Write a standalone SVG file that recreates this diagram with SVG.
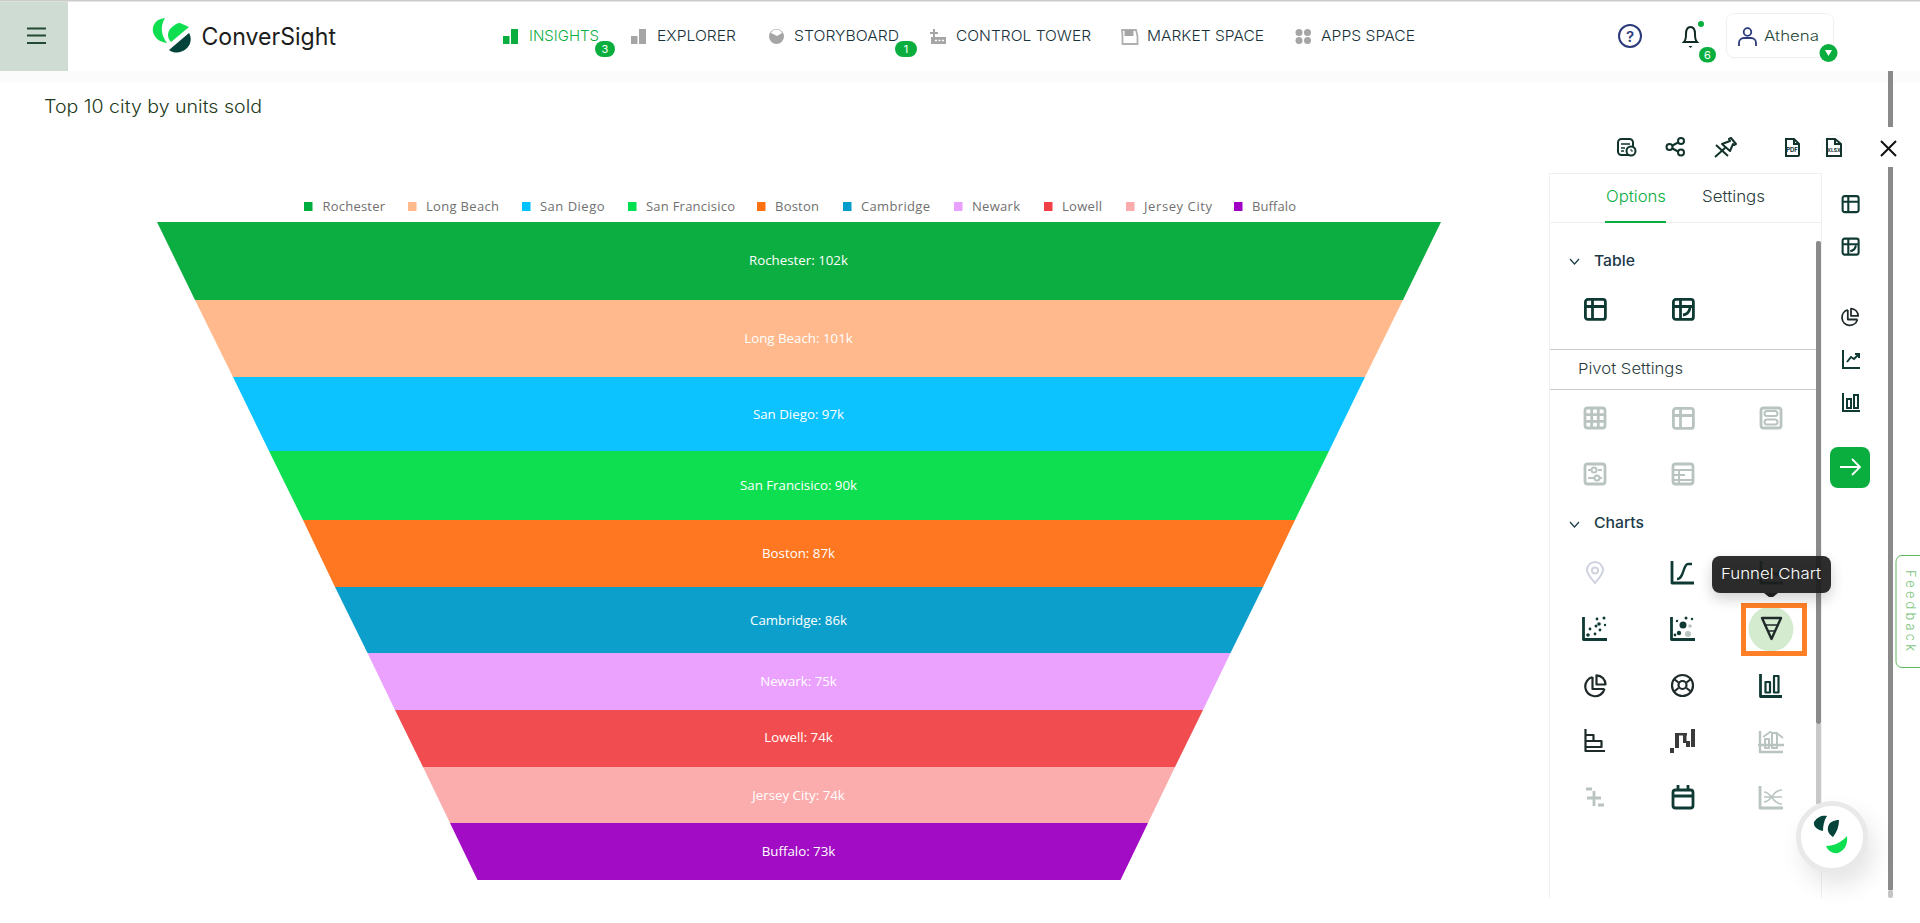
<svg xmlns="http://www.w3.org/2000/svg" width="1920" height="923" viewBox="0 0 1920 923">
<style>
text{font-family:"Inter","Noto Sans","Liberation Sans",sans-serif}
.nav{font-size:15px;fill:#17323a;font-weight:300}
.leg{font-family:"Open Sans","Noto Sans",sans-serif;font-size:13px;fill:#707070}
.lab{font-family:"Open Sans","Noto Sans",sans-serif;font-size:13.300px;fill:#fff;text-anchor:middle}
.badge{fill:#0aae3f}
.bt{font-size:11px;fill:#fff;text-anchor:middle}
.ic{fill:none;stroke:#0f3a34;stroke-width:2.800;stroke-linejoin:round}
.ig{fill:none;stroke:#b9c4c0;stroke-width:2.800;stroke-linejoin:round}
.ik{fill:none;stroke:#1f2a2a;stroke-width:2.200;stroke-linejoin:round}
.ng{fill:#a5a5a5}
.sb{fill:#8a8a8a}
.hd{font-size:15px;fill:#1c3a48;font-weight:500}
</style>
<defs>
<filter id="sh" x="-50%" y="-50%" width="200%" height="200%"><feGaussianBlur stdDeviation="12"/></filter>
<filter id="sh2" x="-30%" y="-50%" width="160%" height="200%"><feGaussianBlur stdDeviation="7"/></filter>
<g id="tbl"><rect x="1.400" y="1.400" width="20" height="20" rx="2.500"/><path d="M1.400 8.500H21.400M8.500 1.400V21.400"/></g>
<g id="tbl2"><rect x="1.400" y="1.400" width="20" height="20" rx="2.500"/><path d="M1.400 8.500H21.400M8.500 1.400V21.400M11 17q6-1 7-7"/></g>
<g id="pie"><path d="M8.500 3A9.800 9.800 0 1 0 20.500 15"/><path d="M8.500 3V15H20.500"/><path d="M12.500 1.300A9.200 9.200 0 0 1 21.500 10.500H12.500Z"/></g>
</defs>
<rect width="1920" height="923" fill="#fff"/>

<g id="header">
<rect y="71" width="1920" height="12" fill="#fbfbfb"/>
<rect width="1920" height="1.500" fill="#ccc"/>
<rect y="1.500" width="68" height="69.500" fill="#cfdcd3"/>
<path d="M27 28.500H46M27 35.500H46M27 43H46" stroke="#234a33" stroke-width="2" fill="none"/>
</g>

<g id="logo">
<path d="M165 18C155 19 152 26 153 32C155 39 160 42 167 43C161 35 160 26 165 18Z" fill="#0ddf50"/>
<path d="M180 23L189 27L171 42C167 38 167 32 171 28C174 25 177 23 180 23Z" fill="#0ddf50"/>
<path d="M189 33C192 38 191 45 186 49C181 53 175 54 169 50Z" fill="#04433a"/>
<text x="201.500" y="45" font-size="24" fill="#1d1d1d" font-weight="400" textLength="134.500" lengthAdjust="spacingAndGlyphs">ConverSight</text>
</g>

<g id="nav-insights">
<rect x="503" y="36" width="6.500" height="8" fill="#0aae3f"/><rect x="511" y="29" width="7" height="15" fill="#0aae3f"/>
<text x="529" y="41" class="nav" style="fill:#0aae3f" textLength="70" lengthAdjust="spacingAndGlyphs">INSIGHTS</text>
<rect x="595" y="41" width="20" height="16" rx="8" class="badge"/><text x="605" y="53" class="bt">3</text>
</g>
<g id="nav-explorer">
<rect x="631" y="36" width="6.500" height="8" class="ng"/><rect x="639" y="29" width="7" height="15" class="ng"/>
<text x="657" y="41" class="nav" textLength="79" lengthAdjust="spacingAndGlyphs">EXPLORER</text>
</g>
<g id="nav-storyboard">
<circle cx="776.500" cy="36.500" r="7.500" class="ng"/><path d="M771 33a6 6 0 0 1 11 0l-5 3Z" fill="#fff"/>
<text x="794" y="41" class="nav" textLength="105" lengthAdjust="spacingAndGlyphs">STORYBOARD</text>
<rect x="895" y="41" width="22" height="16" rx="8" class="badge"/><text x="906" y="53" class="bt">1</text>
</g>
<g id="nav-control">
<path d="M933 29h2v3h3v2h-3v3h-2v-3h-3v-2h3Z" class="ng"/><rect x="931" y="37" width="15" height="7" class="ng"/><path d="M935 40.500h2M938.500 40.500h2M942 40.500h2" stroke="#fff" stroke-width="1.500"/>
<text x="956" y="41" class="nav" textLength="135" lengthAdjust="spacingAndGlyphs">CONTROL TOWER</text>
</g>
<g id="nav-market">
<path d="M1122 30h14l1.500 6v8h-15v-8Z" fill="none" stroke="#b0b0b0" stroke-width="1.800"/><rect x="1124.500" y="30" width="9" height="6" class="ng"/>
<text x="1147" y="41" class="nav" textLength="117" lengthAdjust="spacingAndGlyphs">MARKET SPACE</text>
</g>
<g id="nav-apps">
<circle cx="1299" cy="32.500" r="3.500" class="ng"/><circle cx="1307.500" cy="32.500" r="3.500" class="ng"/><circle cx="1299" cy="40.500" r="3.500" class="ng"/><circle cx="1307.500" cy="40.500" r="3.500" class="ng"/>
<text x="1321" y="41" class="nav" textLength="94" lengthAdjust="spacingAndGlyphs">APPS SPACE</text>
</g>

<g id="help">
<circle cx="1630" cy="36" r="11" fill="none" stroke="#2b3a7a" stroke-width="2"/>
<text x="1630" y="41.500" font-size="15" fill="#2b3a7a" text-anchor="middle" font-weight="600">?</text>
</g>
<g id="notifications">
<path d="M1684 42c2-2 2-4 2-8c0-5 2-7 4.500-7s4.500 2 4.500 7c0 4 0 6 2 8Z" fill="none" stroke="#0f2a24" stroke-width="2"/>
<path d="M1688.500 46h4l-2 2Z" fill="#0f2a24"/>
<circle cx="1701" cy="24" r="3" fill="#0aae3f"/>
<rect x="1699" y="47" width="17" height="15.500" rx="7.700" class="badge"/><text x="1707.500" y="59" class="bt">6</text>
</g>
<g id="user">
<rect x="1726.500" y="13.500" width="107" height="44" rx="7" fill="#fff" stroke="#f0f0f0"/>
<circle cx="1747.500" cy="32" r="3.800" fill="none" stroke="#2b3a7a" stroke-width="1.800"/>
<path d="M1739 46v-3a5 5 0 0 1 5-5h7a5 5 0 0 1 5 5v3" fill="none" stroke="#2b3a7a" stroke-width="1.800"/>
<text x="1764" y="41" font-size="14.500" fill="#1f4a3a" font-weight="300" textLength="55" lengthAdjust="spacingAndGlyphs">Athena</text>
<circle cx="1828.500" cy="53" r="9" class="badge"/><path d="M1825 50h7l-3.500 6Z" fill="#fff"/>
</g>

<g id="page-scrollbar">
<rect x="1888" y="71" width="5" height="56" class="sb"/>
<rect x="1888" y="167" width="5" height="723" class="sb"/>
<rect x="1888" y="890" width="5" height="8" rx="2" fill="#c5c5c5"/>
</g>

<text id="title" x="44" y="113" font-size="18" fill="#1e3a20" font-weight="300" textLength="218" lengthAdjust="spacingAndGlyphs">Top 10 city by units sold</text>

<g id="toolbar" fill="none" stroke="#12322c" stroke-width="2">
<rect x="1618" y="139" width="15" height="16" rx="3.500"/><path d="M1621 144h9M1621 148h4M1621 151h3" stroke-width="1.500"/><circle cx="1631" cy="151" r="4.500" fill="#fff"/><path d="M1631 149v2h2" stroke-width="1"/>
<circle cx="1669.500" cy="147" r="3"/><circle cx="1681" cy="141" r="3"/><circle cx="1681" cy="152.500" r="3"/><path d="M1672.500 145.500l5.500-3M1672.500 148.500l5.500 3"/>
<circle cx="1834" cy="147" r="12" stroke="#f4f4f4" stroke-width="1"/>
<path d="M1722 144l8-3l-1-2l2-1l5 6l-2 1l-1-1l-3 7l-8-7Z M1715 157l10-9M1716 145l12 11" stroke-linejoin="round"/>
<path d="M1786 139h8l5 5v11a1 1 0 0 1-1 1h-12Z M1794 139v5h5"/>
<text x="1792" y="152" font-size="6" fill="#12322c" stroke="none" font-weight="700" text-anchor="middle">PDF</text>
<path d="M1827 139h8l6 5v12h-14Z M1835 139v5h6"/>
<text x="1834" y="152" font-size="5" fill="#12322c" stroke="none" font-weight="700" text-anchor="middle">XLSX</text>
<path d="M1881 141l15 15M1896 141l-15 15" stroke="#111" stroke-width="2"/>
</g>

<g id="legend">
<rect x="304" y="202" width="8.500" height="9" fill="#00ae3f"/><text x="322.500" y="211" class="leg" textLength="62.500">Rochester</text>
<rect x="408" y="202" width="8.500" height="9" fill="#ffb98c"/><text x="426" y="211" class="leg" textLength="73">Long Beach</text>
<rect x="522" y="202" width="8.500" height="9" fill="#00c2ff"/><text x="540" y="211" class="leg" textLength="64.500">San Diego</text>
<rect x="628" y="202" width="8.500" height="9" fill="#00df50"/><text x="646" y="211" class="leg" textLength="89">San Francisico</text>
<rect x="757" y="202" width="8.500" height="9" fill="#ff7011"/><text x="775" y="211" class="leg" textLength="44">Boston</text>
<rect x="843" y="202" width="8.500" height="9" fill="#009dcc"/><text x="861" y="211" class="leg" textLength="69">Cambridge</text>
<rect x="954" y="202" width="8.500" height="9" fill="#e9a0fe"/><text x="972" y="211" class="leg" textLength="48">Newark</text>
<rect x="1044" y="202" width="8.500" height="9" fill="#f14045"/><text x="1062" y="211" class="leg" textLength="40">Lowell</text>
<rect x="1126" y="202" width="8.500" height="9" fill="#fbabab"/><text x="1144" y="211" class="leg" textLength="68">Jersey City</text>
<rect x="1234" y="202" width="8.500" height="9" fill="#a000c4"/><text x="1252" y="211" class="leg" textLength="44">Buffalo</text>
</g>

<g id="funnel">
<g id="seg-rochester"><polygon points="157,222 1441,222 1403,300 195,300" fill="#0dae41"/><text x="798.500" y="265" class="lab">Rochester: 102k</text></g>
<g id="seg-long-beach"><polygon points="195,300 1403,300 1365,377 233,377" fill="#ffb98c"/><text x="798.500" y="343" class="lab">Long Beach: 101k</text></g>
<g id="seg-san-diego"><polygon points="233,377 1365,377 1329,451 269,451" fill="#0cc2ff"/><text x="798.500" y="419" class="lab">San Diego: 97k</text></g>
<g id="seg-san-francisico"><polygon points="269,451 1329,451 1295,520 303,520" fill="#0ddf50"/><text x="798.500" y="490" class="lab">San Francisico: 90k</text></g>
<g id="seg-boston"><polygon points="303,520 1295,520 1263,587 335,587" fill="#ff7721"/><text x="798.500" y="558" class="lab">Boston: 87k</text></g>
<g id="seg-cambridge"><polygon points="335,587 1263,587 1230.500,653 367.500,653" fill="#0d9fcc"/><text x="798.500" y="625" class="lab">Cambridge: 86k</text></g>
<g id="seg-newark"><polygon points="367.500,653 1230.500,653 1203,710 395,710" fill="#eba2fe"/><text x="798.500" y="685.500" class="lab">Newark: 75k</text></g>
<g id="seg-lowell"><polygon points="395,710 1203,710 1175,767 423,767" fill="#f14d50"/><text x="798.500" y="742" class="lab">Lowell: 74k</text></g>
<g id="seg-jersey-city"><polygon points="423,767 1175,767 1148,823 450,823" fill="#fbadad"/><text x="798.500" y="799.500" class="lab">Jersey City: 74k</text></g>
<g id="seg-buffalo"><polygon points="450,823 1148,823 1120.500,880 477.500,880" fill="#a10cc4"/><text x="798.500" y="856" class="lab">Buffalo: 73k</text></g>
</g>

<g id="panel">
<path d="M1549.500 898V173.500H1821.500V898" fill="none" stroke="#f0f0f0"/>
<path d="M1550 222.500H1822" stroke="#eee"/>
<text x="1606" y="202" font-size="16" fill="#0aae3f" font-weight="300" textLength="60" lengthAdjust="spacingAndGlyphs">Options</text>
<rect x="1605" y="221" width="61" height="2" fill="#0aae3f"/>
<text x="1702" y="202" font-size="16" fill="#2a3c3c" font-weight="300" textLength="63" lengthAdjust="spacingAndGlyphs">Settings</text>
<rect x="1816" y="241" width="5" height="483" rx="2" class="sb"/>
<rect x="1816" y="724" width="5" height="80" fill="#c9c9c9"/>
<path d="M1570 259l4.500 5l4.500-5" fill="none" stroke="#1c3a48" stroke-width="1.200"/>
<text x="1594" y="266" class="hd" textLength="41" lengthAdjust="spacingAndGlyphs">Table</text>
<use href="#tbl" x="1584" y="298" class="ic"/>
<use href="#tbl2" x="1672" y="298" class="ic"/>
<path d="M1550 349.500H1816M1550 389.500H1816" stroke="#ccc"/>
<text x="1578" y="374" font-size="15" fill="#2a3c3c" font-weight="300" textLength="105" lengthAdjust="spacingAndGlyphs">Pivot Settings</text>
<g class="ig">
<rect x="1585" y="408" width="20" height="20" rx="2.500"/><path d="M1585 414.700H1605M1585 421.300H1605M1591.700 408V428M1598.300 408V428"/>
<use href="#tbl" x="1672" y="407"/>
<rect x="1761" y="408" width="20" height="20" rx="2.500"/><rect x="1764.500" y="411" width="13" height="5" rx="2.500" stroke-width="2"/><rect x="1764.500" y="419.500" width="13" height="5" rx="2.500" stroke-width="2"/>
<rect x="1585" y="464" width="20" height="20" rx="2.500"/><path d="M1588 470h3M1598 470h4M1588 478h6M1600 478h2" stroke-width="2"/><circle cx="1594" cy="470" r="2.500" stroke-width="2"/><circle cx="1597" cy="478" r="2.500" stroke-width="2"/>
<rect x="1673" y="464" width="20" height="20" rx="2.500"/><path d="M1673 470H1693M1673 475H1685M1673 480H1693M1679 470V484" stroke-width="2"/>
</g>
<path d="M1570 522l4.500 5l4.500-5" fill="none" stroke="#1c3a48" stroke-width="1.200"/>
<text x="1594" y="528" class="hd" textLength="50" lengthAdjust="spacingAndGlyphs">Charts</text>

<g id="map-icon" fill="none" stroke="#cfd3e0" stroke-width="2"><path d="M1595 583c-5-6-8-9-8-13a8 8 0 0 1 16 0c0 4-3 7-8 13Z"/><circle cx="1595" cy="570.500" r="3"/></g>
<g class="ic"><path d="M1672 561V583H1694"/><path d="M1677 579c7 0 6-15 11-15h4" stroke-width="2.400"/></g>
<g class="ic"><path d="M1761 561V583H1783M1765 580l6-9 5 4 6-6"/></g>
<g fill="#0f3a34"><path d="M1583.500 617V639.500H1607" class="ic"/><circle cx="1588" cy="635" r="1.800"/><circle cx="1595" cy="634" r="1.400"/><circle cx="1590" cy="629" r="1.400"/><circle cx="1596" cy="626" r="1.500"/><circle cx="1600" cy="630" r="1.400"/><circle cx="1599" cy="624" r="1.800"/><circle cx="1604" cy="618" r="1.500"/><circle cx="1597" cy="619" r="1.400"/><circle cx="1605" cy="625" r="1.200"/></g>
<g fill="#0f3a34"><path d="M1671.500 617V639.500H1695" class="ic"/><circle cx="1683" cy="625" r="3.500"/><circle cx="1679" cy="633" r="2.200"/><circle cx="1675" cy="635" r="1.400"/><circle cx="1686" cy="618" r="1.500"/><circle cx="1692" cy="619" r="1.200"/><circle cx="1690" cy="626" r="1.800" fill="#b9c4c0"/><circle cx="1688" cy="634" r="3" fill="#b9c4c0"/><circle cx="1677" cy="621" r="1.200"/></g>

<use href="#pie" x="1584" y="674" class="ik"/>
<g class="ik"><circle cx="1682.500" cy="685.500" r="10.500"/><circle cx="1682.500" cy="685" r="4"/><path d="M1678.500 688l-5 4M1686.500 688l5 4M1674 679l4.500 3.500M1691 679l-4.500 3.500"/></g>
<g class="ic"><path d="M1760.500 674V696.500H1782"/><rect x="1765.500" y="682" width="4.500" height="10.500" stroke-width="2.200"/><rect x="1774" y="676" width="4.500" height="16.500" stroke-width="2.200"/></g>
<g class="ik"><path d="M1585.500 729V751H1605M1585.500 735h8v6h-8M1585.500 741h16v6h-16" stroke-width="2.200"/></g>
<g fill="#3a3a3a"><rect x="1670" y="748" width="4" height="5"/><rect x="1675" y="733" width="4" height="15"/><rect x="1675" y="733" width="12" height="2.500"/><rect x="1683" y="733" width="3.500" height="10"/><rect x="1686" y="741" width="4" height="6"/><rect x="1691" y="729" width="4" height="18"/></g>
<g class="ig"><path d="M1760 731V752H1783M1758 745H1784" style="stroke-width:2.400"/><rect x="1765" y="739" width="4" height="9" style="stroke-width:2"/><rect x="1772" y="733" width="5" height="15" style="stroke-width:2"/><path d="M1763 737l7-5 8 2 5 4" style="stroke-width:1.800"/></g>
<g class="ig"><path d="M1586 789h6M1594 791V806M1587 798H1601M1598 805h6"/></g>
<g class="ic"><rect x="1673" y="790" width="20" height="18" rx="2.500"/><path d="M1673 796H1693M1678 785v5M1688 785v5"/></g>
<g class="ig"><path d="M1760 786V808H1783"/><path d="M1764 792c8 0 8 12 18 12M1764 802c8 0 8-12 18-12M1764 797c8 0 10 0 18 0" style="stroke-width:1.500"/></g>
</g>

<g id="rail">
<use href="#tbl" transform="translate(1841.500 195) scale(.8)" class="ic" style="stroke-width:2.600"/>
<use href="#tbl2" transform="translate(1841.500 237.500) scale(.8)" class="ic" style="stroke-width:2.600"/>
<use href="#pie" transform="translate(1841 307.500) scale(.8)" class="ik"/>
<g fill="none" stroke="#0f3a34" stroke-width="2"><path d="M1843 350V368H1860M1847 362l4-5 3 2 5-5M1855 354h4v4"/></g>
<g fill="none" stroke="#0f3a34" stroke-width="2"><path d="M1843 393V411H1860M1847 399h4v9h-4ZM1854 395h4v13h-4Z"/></g>
<rect x="1830" y="447" width="40" height="41" rx="8" fill="#0aae3f"/>
<path d="M1840 467H1860M1852 459l8 8l-8 8" fill="none" stroke="#fff" stroke-width="1.800"/>
</g>

<g id="feedback">
<path d="M1920 555.500H1902a6 6 0 0 0-6 6V661.500a6 6 0 0 0 6 6H1920" fill="#fff" stroke="#5cb85c"/>
<text transform="translate(1906 570) rotate(90)" font-size="13" fill="#7cc47c" font-weight="300" textLength="81" lengthAdjust="spacing">Feedback</text>
</g>

<g id="funnel-selected">
<circle cx="1771" cy="629" r="22.500" fill="#d5ebd0"/>
<path d="M1762 618H1781L1771.500 639Z" fill="none" stroke="#1f2a2a" stroke-width="2.400" stroke-linejoin="round"/>
<path d="M1764 625H1779M1767 631H1776" stroke="#1f2a2a" stroke-width="1.500"/>
<rect x="1743.500" y="605.500" width="61" height="48" fill="none" stroke="#ff7f27" stroke-width="5"/>
</g>

<g id="tooltip">
<rect x="1712" y="562" width="119" height="37" rx="8" fill="#000" opacity=".18" filter="url(#sh2)"/>
<rect x="1712" y="556" width="119" height="37" rx="8" fill="#1e1e1e" fill-opacity=".93"/>
<path d="M1764 593h14l-5 4h-4Z" fill="#1e1e1e"/>
<text x="1721" y="579" font-size="15" fill="#fff" font-weight="300" textLength="100" lengthAdjust="spacingAndGlyphs">Funnel Chart</text>
</g>

<g id="chat">
<circle cx="1838" cy="850" r="36" fill="#000" opacity=".1" filter="url(#sh)"/>
<circle cx="1832" cy="837" r="33.500" fill="#fff" stroke="#e9e9e9" stroke-width="5"/>
<path d="M1814 822c4-6 9-7 13-6c-3 4-4 10-4 15c-5-1-10-4-9-9Z" fill="#04433a"/>
<path d="M1828 827c1-5 6-7 11-7c0 6-2 12-6 17c-3-2-6-5-5-10Z" fill="#04433a"/>
<path d="M1826 846c8 0 16-4 21-10c1 8-2 14-9 17c-5 1-10-2-12-7Z" fill="#0ddf50"/>
</g>
</svg>
